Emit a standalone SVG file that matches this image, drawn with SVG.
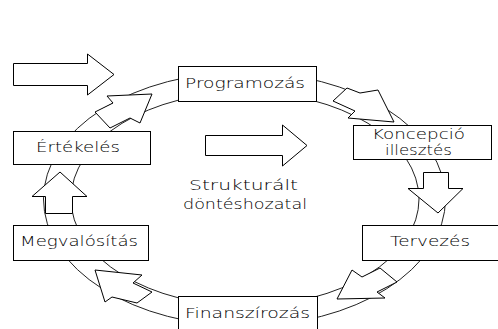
<svg xmlns="http://www.w3.org/2000/svg" width="498" height="329" viewBox="0 0 498 329">
  <style>
    .ring { fill: none; stroke: #222; stroke-width: 1; }
    .box rect { fill: #fff; stroke: #000; stroke-width: 1; }
    .box text, .label { font-family: "DejaVu Sans", "Liberation Sans", sans-serif; font-weight: 200; font-size: 14px; fill: #000; }
    .arrow { fill: #fff; stroke: #000; stroke-width: 1; stroke-linejoin: miter; }
  </style>
  <rect width="498" height="329" fill="#fff"/>

  <!-- cycle ring behind everything -->
  <g id="connectors">
    <ellipse class="ring" cx="244.5" cy="199" rx="201" ry="127"/>
    <ellipse class="ring" cx="245" cy="199" rx="174" ry="107"/>
  </g>

  <!-- phase boxes -->
  <g id="programozas" class="box">
    <rect x="178.5" y="66.5" width="138" height="35"/>
    <text x="185" y="88" textLength="120" lengthAdjust="spacingAndGlyphs">Programozás</text>
  </g>
  <g id="koncepcio" class="box">
    <rect x="353.5" y="125.5" width="138" height="34"/>
    <text x="372" y="139" textLength="93" lengthAdjust="spacingAndGlyphs">Koncepció</text>
    <text x="385" y="155" textLength="67" lengthAdjust="spacingAndGlyphs">illesztés</text>
  </g>
  <g id="tervezes" class="box">
    <rect x="362.5" y="225.5" width="140" height="35"/>
    <text x="390" y="246" textLength="80" lengthAdjust="spacingAndGlyphs">Tervezés</text>
  </g>
  <g id="finanszirozas" class="box">
    <rect x="178.5" y="296.5" width="139" height="40"/>
    <text x="185" y="318" textLength="125" lengthAdjust="spacingAndGlyphs">Finanszírozás</text>
  </g>
  <g id="megvalositas" class="box">
    <rect x="13.5" y="225.5" width="135" height="35"/>
    <text x="20" y="246" textLength="118" lengthAdjust="spacingAndGlyphs">Megvalósítás</text>
  </g>
  <g id="ertekeles" class="box">
    <rect x="13.5" y="131.5" width="137" height="33"/>
    <text x="36" y="152" textLength="84" lengthAdjust="spacingAndGlyphs">Értékelés</text>
  </g>

  <!-- block arrows along the ring -->
  <g id="cycle-arrows">
    <polygon class="arrow" points="95,112 113,103 107,96 152,94 140,123 130,118 110,128"/>
    <polygon class="arrow" points="347,88 360,93 378,90 394,122 348,118 355,111 333,101"/>
    <polygon class="arrow" points="423.5,172.5 448.5,172.5 448.5,188.5 463,188.5 438,213 408,188.5 423.5,188.5"/>
    <polygon class="arrow" points="380,268 362,277 352,270 337,299 385,298 377,292 397,282"/>
    <polygon class="arrow" points="152,292 133,283 142,275 95,270 105,302 112,297 137,303"/>
    <polygon class="arrow" points="45.5,213.5 45.5,196.5 32,196.5 60,172 87,196.5 72.5,196.5 72.5,213.5"/>
  </g>

  <!-- input arrow and centre -->
  <g id="input-arrow">
    <polygon class="arrow" points="13.5,63.5 87.5,63.5 87.5,54 114,74.5 87.5,95 87.5,85.5 13.5,85.5"/>
  </g>
  <g id="center">
    <polygon class="arrow" points="205.5,135.5 282.5,135.5 282.5,125 307,145.5 282.5,166 282.5,155.5 205.5,155.5"/>
    <text class="label" x="189" y="190" textLength="109" lengthAdjust="spacingAndGlyphs" font-size="15">Strukturált</text>
    <text class="label" x="183" y="209" textLength="124" lengthAdjust="spacingAndGlyphs" font-size="15">döntéshozatal</text>
  </g>
</svg>
